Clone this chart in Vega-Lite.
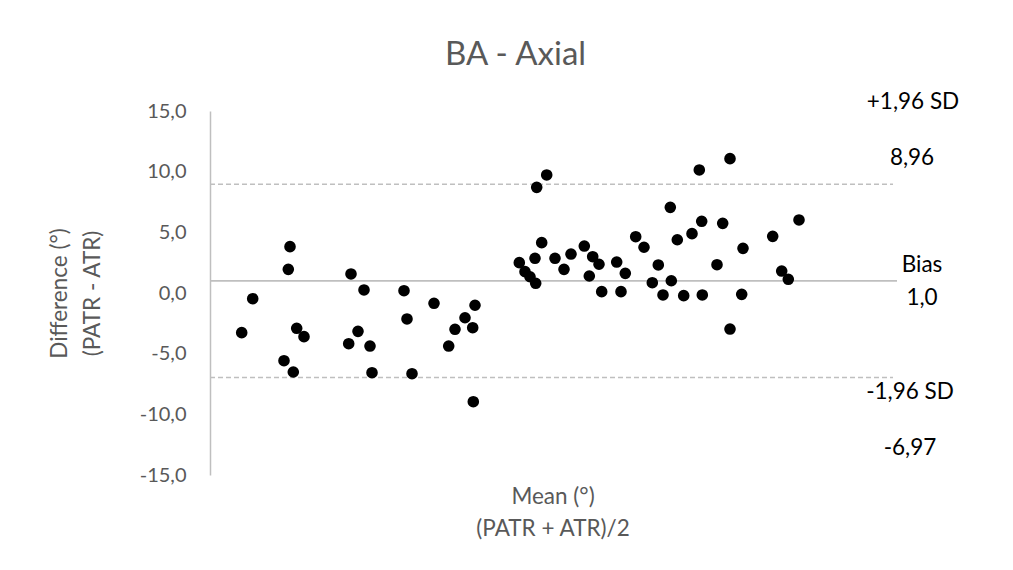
{
  "$schema": "https://vega.github.io/schema/vega-lite/v6.json",
  "width": 685,
  "height": 364,
  "autosize": {"type": "none"},
  "padding": {"left": 210, "top": 111, "right": 118, "bottom": 95},
  "background": "white",
  "config": {
    "view": {"stroke": null},
    "font": "Lato"
  },
  "title": {
    "text": "BA - Axial",
    "fontSize": 33,
    "fontWeight": "normal",
    "color": "#595959",
    "font": "Lato",
    "anchor": "middle",
    "dx": -37,
    "offset": 19
  },
  "datasets": {
    "points": [
      {"mean": 31.7, "diff": -3.27},
      {"mean": 42.7, "diff": -0.47},
      {"mean": 80.0, "diff": 3.82},
      {"mean": 78.3, "diff": 1.95},
      {"mean": 86.7, "diff": -2.91},
      {"mean": 94.0, "diff": -3.60},
      {"mean": 74.0, "diff": -5.58},
      {"mean": 83.3, "diff": -6.51},
      {"mean": 141.0, "diff": 1.57},
      {"mean": 154.0, "diff": 0.25},
      {"mean": 148.0, "diff": -3.16},
      {"mean": 138.7, "diff": -4.18},
      {"mean": 160.0, "diff": -4.37},
      {"mean": 162.0, "diff": -6.57},
      {"mean": 194.0, "diff": 0.19},
      {"mean": 197.0, "diff": -2.14},
      {"mean": 202.0, "diff": -6.65},
      {"mean": 224.0, "diff": -0.85},
      {"mean": 255.0, "diff": -2.04},
      {"mean": 265.0, "diff": -1.01},
      {"mean": 245.0, "diff": -2.99},
      {"mean": 238.7, "diff": -4.37},
      {"mean": 262.7, "diff": -2.86},
      {"mean": 263.3, "diff": -8.96},
      {"mean": 336.7, "diff": 9.73},
      {"mean": 326.7, "diff": 8.71},
      {"mean": 331.7, "diff": 4.15},
      {"mean": 309.3, "diff": 2.50},
      {"mean": 325.0, "diff": 2.86},
      {"mean": 315.0, "diff": 1.76},
      {"mean": 320.0, "diff": 1.34},
      {"mean": 325.7, "diff": 0.80},
      {"mean": 345.0, "diff": 2.86},
      {"mean": 354.0, "diff": 1.95},
      {"mean": 361.0, "diff": 3.21},
      {"mean": 374.3, "diff": 3.87},
      {"mean": 382.7, "diff": 2.99},
      {"mean": 389.0, "diff": 2.37},
      {"mean": 379.3, "diff": 1.40},
      {"mean": 391.7, "diff": 0.11},
      {"mean": 406.7, "diff": 2.55},
      {"mean": 415.3, "diff": 1.62},
      {"mean": 411.0, "diff": 0.11},
      {"mean": 425.7, "diff": 4.64},
      {"mean": 434.0, "diff": 3.77},
      {"mean": 448.3, "diff": 2.31},
      {"mean": 442.3, "diff": 0.85},
      {"mean": 461.3, "diff": 1.01},
      {"mean": 453.0, "diff": -0.16},
      {"mean": 473.7, "diff": -0.22},
      {"mean": 492.3, "diff": -0.16},
      {"mean": 460.3, "diff": 7.06},
      {"mean": 467.3, "diff": 4.39},
      {"mean": 482.0, "diff": 4.89},
      {"mean": 491.7, "diff": 5.91},
      {"mean": 489.3, "diff": 10.14},
      {"mean": 520.0, "diff": 11.07},
      {"mean": 512.7, "diff": 5.74},
      {"mean": 507.0, "diff": 2.33},
      {"mean": 533.0, "diff": 3.68},
      {"mean": 531.7, "diff": -0.11},
      {"mean": 520.0, "diff": -2.97},
      {"mean": 562.7, "diff": 4.67},
      {"mean": 571.7, "diff": 1.81},
      {"mean": 578.3, "diff": 1.13},
      {"mean": 589.0, "diff": 6.02}
    ],
    "lines": [
      {"kind": "upper", "y": 8.96, "x0": 0, "x1": 683, "dashed": true},
      {"kind": "bias", "y": 1.0, "x0": 0, "x1": 687, "dashed": false},
      {"kind": "lower", "y": -6.97, "x0": 0, "x1": 683, "dashed": true}
    ],
    "labels": [
      {"text": "+1,96 SD", "x": 703, "y": 15.74},
      {"text": "8,96", "x": 702, "y": 11.13},
      {"text": "Bias", "x": 712, "y": 2.31},
      {"text": "1,0", "x": 712, "y": -0.41},
      {"text": "-1,96 SD", "x": 700, "y": -8.16},
      {"text": "-6,97", "x": 700, "y": -12.78}
    ]
  },
  "layer": [
    {
      "data": {"name": "lines"},
      "transform": [{"filter": "datum.dashed"}],
      "mark": {"type": "rule", "color": "#BFBFBF", "strokeWidth": 1.5, "strokeDash": [5, 3]},
      "encoding": {
        "x": {"field": "x0", "type": "quantitative", "scale": {"domain": [0, 685], "nice": false, "zero": false}, "axis": {"labels": false, "ticks": false, "domain": false, "grid": false, "title": ["Mean (°)", "(PATR + ATR)/2"], "titleFontSize": 22.5, "titleFontWeight": "normal", "titleColor": "#595959", "titleFont": "Lato", "titlePadding": 10, "titleLineHeight": 32}},
        "x2": {"field": "x1"},
        "y": {"field": "y", "type": "quantitative", "scale": {"domain": [-15, 15], "nice": false, "zero": false}, "axis": {"values": [-15, -10, -5, 0, 5, 10, 15], "labelExpr": "(datum.value < 0 ? '-' : '') + replace(format(abs(datum.value), '.1f'), '.', ',')", "ticks": false, "grid": false, "domain": true, "domainColor": "#BFBFBF", "domainWidth": 1.5, "labelFontSize": 20, "labelColor": "#595959", "labelFont": "Lato", "labelPadding": 24, "title": ["Difference (°)", "(PATR - ATR)"], "titleFontSize": 22.5, "titleFontWeight": "normal", "titleColor": "#595959", "titleFont": "Lato", "titlePadding": 35, "titleLineHeight": 33}}
      }
    },
    {
      "data": {"name": "lines"},
      "transform": [{"filter": "!datum.dashed"}],
      "mark": {"type": "rule", "color": "#BFBFBF", "strokeWidth": 1.75},
      "encoding": {
        "x": {"field": "x0", "type": "quantitative"},
        "x2": {"field": "x1"},
        "y": {"field": "y", "type": "quantitative"}
      }
    },
    {
      "data": {"name": "points"},
      "mark": {"type": "point", "filled": true, "color": "black", "opacity": 1, "size": 135},
      "encoding": {
        "x": {"field": "mean", "type": "quantitative"},
        "y": {"field": "diff", "type": "quantitative"}
      }
    },
    {
      "data": {"name": "labels"},
      "mark": {"type": "text", "fontSize": 22.5, "font": "Lato", "color": "black", "align": "center", "baseline": "middle", "clip": false},
      "encoding": {
        "x": {"field": "x", "type": "quantitative"},
        "y": {"field": "y", "type": "quantitative"},
        "text": {"field": "text"}
      }
    }
  ]
}
